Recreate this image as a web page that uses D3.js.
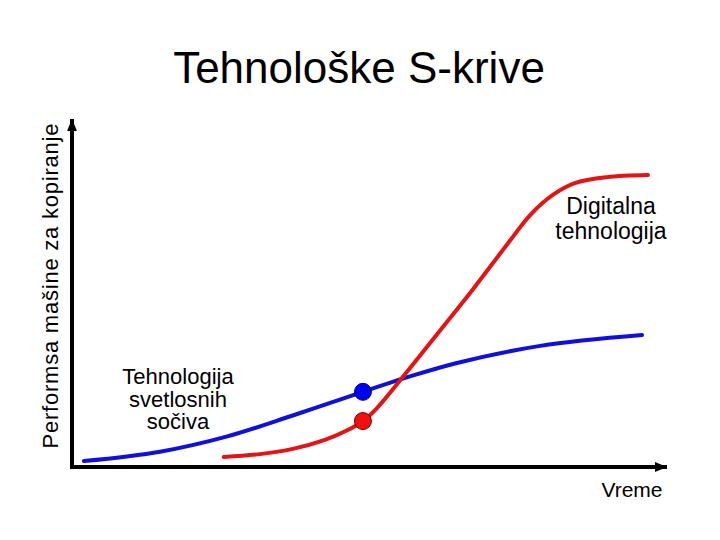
<!DOCTYPE html>
<html>
<head>
<meta charset="utf-8">
<script src="https://cdn.jsdelivr.net/npm/d3@7"></script>
<style>
  body { margin: 0; background: #fff; }
  text { font-family: Arial, "Liberation Sans", sans-serif; fill: #000; }
</style>
</head>
<body>
<div id="screen"></div>
<script>
//time (0-10) and performance (0-10)
var blueTime = [0.2, 1.48, 2.61, 3.71, 4.89, 5.6, 6.47, 7.87, 9.58]
var bluePerf = [0.17, 0.44, 0.88, 1.48, 2.16, 2.56, 2.99, 3.48, 3.79]

var redTime = [2.55, 3.16, 3.71, 4.25, 4.67, 4.89, 5.13, 5.6, 6.18, 6.74, 7.28, 7.7, 8.08, 8.45, 8.99, 9.68]
var redPerf = [0.29, 0.37, 0.52, 0.78, 1.09, 1.32, 1.7, 2.67, 3.91, 5.11, 6.32, 7.24, 7.82, 8.16, 8.33, 8.39]

//the two marked points [time, perf, color]
var dots = [[4.89, 2.16, "blue"], [4.89, 1.32, "red"]]

var title = "Tehnološke S-krive"
var yLabel = "Performsa mašine za kopiranje"
var xLabel = "Vreme"
var blueLabel = ["Tehnologija", "svetlosnih", "sočiva"]
var redLabel = ["Digitalna", "tehnologija"]

var W = 720, H = 540;
var BLUE = "#1010dc", RED = "#e41414";

var svg = d3.select("#screen").append("svg")
    .attr("width", W)
    .attr("height", H);

var x = d3.scaleLinear().domain([0, 10]).range([72, 667]);
var y = d3.scaleLinear().domain([0, 10]).range([467, 119]);

//arrow heads
var defs = svg.append("defs");
defs.append("marker")
    .attr("id", "arr")
    .attr("markerUnits", "userSpaceOnUse")
    .attr("viewBox", "0 0 12 10")
    .attr("refX", 12).attr("refY", 5)
    .attr("markerWidth", 12).attr("markerHeight", 10)
    .attr("orient", "auto")
    .append("path")
    .attr("d", "M0,0L12,5L0,10Z")
    .attr("fill", "#000");

//axes
svg.append("line")
    .attr("x1", x(0) - 2).attr("y1", y(0))
    .attr("x2", x(10)).attr("y2", y(0))
    .attr("stroke", "#000").attr("stroke-width", 4)
    .attr("marker-end", "url(#arr)");
svg.append("line")
    .attr("x1", x(0)).attr("y1", y(0) + 2)
    .attr("x2", x(0)).attr("y2", y(10))
    .attr("stroke", "#000").attr("stroke-width", 4)
    .attr("marker-end", "url(#arr)");

var line = d3.line()
    .x(d => x(d[0]))
    .y(d => y(d[1]))
    .curve(d3.curveCatmullRom.alpha(0.5));

svg.append("path")
    .attr("d", line(d3.zip(blueTime, bluePerf)))
    .attr("fill", "none")
    .attr("stroke", BLUE)
    .attr("stroke-width", 4)
    .attr("stroke-linecap", "round");

svg.append("path")
    .attr("d", line(d3.zip(redTime, redPerf)))
    .attr("fill", "none")
    .attr("stroke", RED)
    .attr("stroke-width", 4)
    .attr("stroke-linecap", "round");

svg.selectAll("circle.dot")
    .data(dots)
    .enter()
    .append("circle")
    .attr("class", "dot")
    .attr("cx", d => x(d[0]))
    .attr("cy", d => y(d[1]))
    .attr("r", 8.5)
    .attr("fill", d => d[2] == "blue" ? "#0000f0" : "#f01010")
    .attr("stroke", d => d[2] == "blue" ? "#000080" : "#800000")
    .attr("stroke-width", 1);

//texts
svg.append("text")
    .attr("x", 359).attr("y", 83)
    .attr("text-anchor", "middle")
    .attr("font-size", 44)
    .text(title);

svg.append("text")
    .attr("transform", "translate(58,286) rotate(-90)")
    .attr("text-anchor", "middle")
    .attr("font-size", 22)
    .attr("textLength", 325)
    .attr("lengthAdjust", "spacing")
    .text(yLabel);

svg.append("text")
    .attr("x", 632).attr("y", 497)
    .attr("text-anchor", "middle")
    .attr("font-size", 21)
    .text(xLabel);

svg.selectAll("text.blab")
    .data(blueLabel)
    .enter()
    .append("text")
    .attr("class", "blab")
    .attr("x", 178)
    .attr("y", (d, i) => 384 + i * 22.5)
    .attr("text-anchor", "middle")
    .attr("font-size", 22)
    .text(d => d);

svg.selectAll("text.rlab")
    .data(redLabel)
    .enter()
    .append("text")
    .attr("class", "rlab")
    .attr("x", 611)
    .attr("y", (d, i) => 214 + i * 25)
    .attr("text-anchor", "middle")
    .attr("font-size", 23)
    .text(d => d);
</script>
</body>
</html>
